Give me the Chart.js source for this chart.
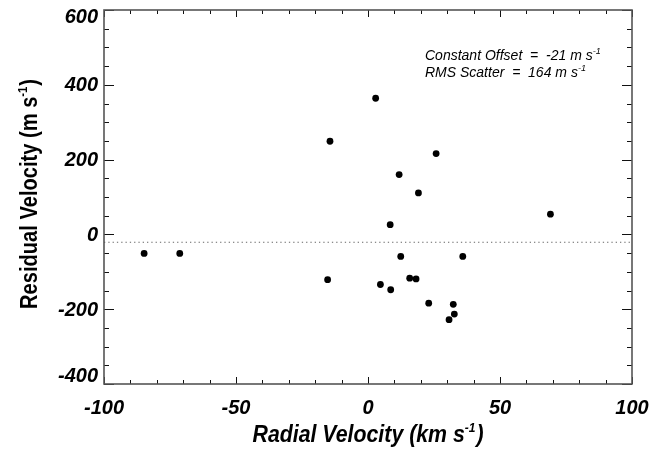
<!DOCTYPE html>
<html lang="en">
<head>
  <meta charset="UTF-8">
  <title>Residual Velocity vs Radial Velocity</title>
  <script src="https://cdn.jsdelivr.net/npm/chart.js"></script>
  <style>
    html, body { margin: 0; padding: 0; background: #fff; overflow: hidden; }
    #wrap { width: 670px; height: 450px; position: relative; }
  </style>
</head>
<body>
<div id="wrap"><canvas id="resChart" width="670" height="450"></canvas></div>

<script>
// values
const radialVel = [-84.8, -71.3, -15.3, -14.4, 2.9, 25.8, 11.8, 19.1, 69.1, 8.4,
                   12.4, 35.9, 4.7, 8.6, 15.8, 18.2, 23.0, 32.3, 32.7, 30.7];
const residualVel = [-51, -51, -121, 249, 364, 216, 160, 111, 54, 26,
                     -59, -59, -134, -148, -117, -119, -184, -187, -213, -228];
const offsetValue = -21;
const rmsScatter = 164;
const xTicks = [-100, -50, 0, 50, 100];
const yTicks = [-400, -200, 0, 200, 400, 600];
const xMinorStep = 10;
const yMinorStep = 50;

const sans = '"Liberation Sans", Arial, sans-serif';
const tickFont = 'italic bold 20px ' + sans;

// draw text followed by a small raised "-1"
function drawWithSup(ctx, parts, x, y, font, supFont, supRise) {
  let cx = x;
  parts.forEach(p => {
    ctx.font = p.sup ? supFont : font;
    ctx.fillText(p.t, cx, p.sup ? y - supRise : y);
    cx += ctx.measureText(p.t).width + (p.sup ? 1 : 0);
  });
}
function widthWithSup(ctx, parts, font, supFont) {
  let w = 0;
  parts.forEach(p => { ctx.font = p.sup ? supFont : font; w += ctx.measureText(p.t).width + (p.sup ? 1 : 0); });
  return w;
}
// centred, horizontally squeezed title (the original uses a narrow face)
function drawTitle(ctx, parts, cx, y, font, supFont, supRise, targetW) {
  const w = widthWithSup(ctx, parts, font, supFont);
  const k = targetW / w;
  ctx.save();
  ctx.translate(cx, y);
  ctx.scale(k, 1);
  drawWithSup(ctx, parts, -w / 2, 0, font, supFont, supRise);
  ctx.restore();
}

const framePlugin = {
  id: 'idlFrame',
  afterDraw(chart) {
    const ctx = chart.ctx;
    const xs = chart.scales.x, ys = chart.scales.y;
    const a = chart.chartArea;
    ctx.save();

    // ticks (inward, on all four sides)
    ctx.strokeStyle = '#111';
    ctx.lineWidth = 1;
    ctx.beginPath();
    for (let v = xs.min; v <= xs.max + 1e-9; v += xMinorStep) {
      const px = Math.round(xs.getPixelForValue(v)) + 0.5;
      const major = xTicks.includes(v);
      const len = major ? 7 : 4;
      ctx.moveTo(px, a.bottom); ctx.lineTo(px, a.bottom - len);
      ctx.moveTo(px, a.top); ctx.lineTo(px, a.top + len);
    }
    for (let v = ys.min; v <= ys.max + 1e-9; v += yMinorStep) {
      const py = Math.round(ys.getPixelForValue(v)) + 0.5;
      const major = yTicks.includes(v);
      const len = major ? 10 : 5;
      ctx.moveTo(a.left, py); ctx.lineTo(a.left + len, py);
      ctx.moveTo(a.right, py); ctx.lineTo(a.right - len, py);
    }
    ctx.stroke();

    // frame
    ctx.strokeStyle = '#555';
    ctx.lineWidth = 1.6;
    ctx.strokeRect(a.left, a.top, a.right - a.left, a.bottom - a.top);

    // tick labels
    ctx.fillStyle = '#000';
    ctx.font = tickFont;
    ctx.textAlign = 'center';
    ctx.textBaseline = 'middle';
    xTicks.forEach(v => {
      ctx.fillText(String(v), xs.getPixelForValue(v), a.bottom + 24);
    });
    ctx.textAlign = 'right';
    yTicks.forEach(v => {
      let py = ys.getPixelForValue(v) + 1;
      py = Math.min(Math.max(py, a.top + 7), a.bottom - 8);
      ctx.fillText(String(v), a.left - 6, py);
    });

    // axis titles
    ctx.textAlign = 'left';
    ctx.textBaseline = 'alphabetic';
    const xParts = [{t: 'Radial Velocity (km s'}, {t: '-1', sup: true}, {t: ')'}];
    drawTitle(ctx, xParts, (a.left + a.right) / 2, 442,
      'italic bold 23px ' + sans, 'italic bold 13px ' + sans, 10, 231);

    const yParts = [{t: 'Residual Velocity (m s'}, {t: '-1', sup: true}, {t: ')'}];
    ctx.save();
    ctx.translate(37, 194);
    ctx.rotate(-Math.PI / 2);
    drawTitle(ctx, yParts, 0, 0, 'bold 23px ' + sans, 'bold 13px ' + sans, 10, 230);
    ctx.restore();

    // annotation
    const nFont = 'italic 14px ' + sans;
    const nSup = 'italic 9px ' + sans;
    drawWithSup(ctx, [{t: 'Constant Offset  =  ' + offsetValue + ' m s'}, {t: '-1', sup: true}], 425, 60, nFont, nSup, 6);
    drawWithSup(ctx, [{t: 'RMS Scatter  =  ' + rmsScatter + ' m s'}, {t: '-1', sup: true}], 425, 77, nFont, nSup, 6);

    ctx.restore();
  }
};

const points = radialVel.map((x, i) => ({x: x, y: residualVel[i]}));

new Chart(document.getElementById('resChart'), {
  type: 'scatter',
  data: {
    datasets: [
      {
        label: 'Residuals',
        data: points,
        pointRadius: 3.4,
        pointBackgroundColor: '#000',
        pointBorderWidth: 0,
        showLine: false
      },
      {
        label: 'Constant offset',
        type: 'line',
        data: [{x: -100, y: offsetValue}, {x: 100, y: offsetValue}],
        borderColor: '#666',
        borderWidth: 1,
        borderDash: [1.3, 3],
        pointRadius: 0,
        fill: false
      }
    ]
  },
  options: {
    responsive: false,
    animation: false,
    devicePixelRatio: 1,
    layout: { padding: { left: 104, right: 38, top: 10, bottom: 66 } },
    plugins: { legend: { display: false }, tooltip: { enabled: false } },
    scales: {
      x: { type: 'linear', min: -100, max: 100, display: false },
      y: { type: 'linear', min: -400, max: 600, display: false }
    }
  },
  plugins: [framePlugin]
});
</script>
</body>
</html>
